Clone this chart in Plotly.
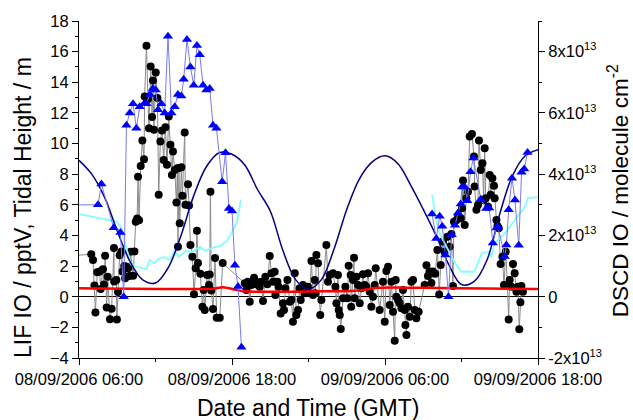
import plotly.graph_objects as go
from datetime import datetime, timedelta

T0 = datetime(2006, 9, 8, 6, 0)

# LIF IO (pptV) - hours since 08/09/2006 06:00
lif_hours = [-0.3, 0.96, 1.10, 1.21, 1.29, 1.43, 1.62, 1.70, 1.88, 1.96, 2.05, 2.17, 2.25, 2.43, 2.56, 2.74, 2.76,
             2.93, 2.97, 3.06, 3.19, 3.33, 3.41, 3.55, 3.62, 3.73, 3.86, 3.95, 4.04, 4.25, 4.35, 4.45, 4.56, 4.63,
             4.71, 4.84, 4.97, 5.10, 5.15, 5.29, 5.41, 5.49, 5.62, 5.73, 5.80, 5.88, 6.02, 6.15, 6.25, 6.38, 6.51,
             6.64, 6.78, 6.90, 7.04, 7.17, 7.29, 7.37, 7.51, 7.64, 7.72, 7.76, 7.84, 7.90, 8.03, 8.11, 8.29, 8.35,
             8.55, 8.63, 8.74, 8.89, 9.02, 9.15, 9.25, 9.33, 9.52, 9.68, 9.78, 9.86, 10.05, 10.20, 10.25, 10.31,
             10.38, 10.51, 10.67, 10.80, 11.04, 11.27,
             13.00, 13.13, 13.25, 13.39, 13.52, 13.73, 13.84, 13.99, 14.17, 14.31, 14.43, 14.62, 14.78, 14.96,
             15.09, 15.22, 15.35, 15.40, 15.56, 15.66, 15.82, 16.00, 16.08, 16.19, 16.35, 16.53, 16.66, 16.78,
             16.92, 17.05, 17.18, 17.31, 17.39, 17.57, 17.70, 17.96, 18.09, 18.23, 18.35, 18.49, 18.54, 18.62,
             18.75, 18.92, 19.01, 19.40, 19.53, 19.66, 19.92, 20.11, 20.19, 20.31, 20.37, 20.45, 20.53, 20.71,
             20.89, 21.05, 21.15, 21.31, 21.35, 21.49, 21.57, 21.62, 21.76, 21.88, 22.02, 22.15, 22.27, 22.40,
             22.54, 22.67, 22.80, 22.93, 23.06, 23.19, 23.27, 23.58, 23.84, 23.98, 24.11, 24.24, 24.37, 24.50,
             24.63, 24.76, 24.84, 24.89, 25.02, 25.15, 25.29, 25.41, 25.55, 25.60, 25.68, 25.80, 25.94, 26.07,
             26.20, 26.33, 26.46, 26.64,
             27.11, 27.25, 27.37, 27.51, 27.64, 27.76, 27.94, 28.11, 28.25, 28.37, 28.55, 28.68, 28.89, 29.07,
             29.21, 29.33, 29.41, 29.60, 29.73, 29.94, 30.04, 30.12, 30.25, 30.38, 30.51, 30.64, 30.82, 30.98,
             31.03, 31.17, 31.29, 31.37, 31.51, 31.64, 31.74, 31.82, 31.90, 32.08, 32.21, 32.29, 32.42, 32.55,
             32.60, 32.74, 32.82, 32.92, 33.07, 33.21, 33.33, 33.47, 33.60, 33.70, 33.78, 33.91, 34.04, 34.17,
             34.31, 34.43, 34.53, 34.62, 34.70, 34.82]
lif_values = [2.7, 2.77, 2.4, 0.73, -1.03, 1.6, 1.65, 0.5, 1.8, 0.8, 2.67, -0.7, 1.3, -1.47, -0.78, 3.18, 1.0,
              1.09, -1.48, 0.31, 2.7, 2.96, 1.65, 2.0, 1.2, 1.96, 1.86, 1.35, 2.94, 1.37, 2.96, 4.9, 5.1, 7.84,
              5.0, 8.54, 10.2, 8.98, 13.07, 16.39, 12.9, 11.0, 15.03, 11.73, 14.12, 10.9, 14.64, 12.97, 6.65, 10.13, 10.85,
              8.93, 11.07, 8.61, 11.76, 9.92, 7.95, 9.48, 8.28, 6.15, 8.39, 3.27, 8.4, 4.8, 8.46, 6.6, 10.72, 6.0,
              7.35, 5.95, 3.38, 2.61, 0.16, 1.86, 4.31, 2.2, 1.5, -0.65, 0.44, -0.87, 1.42, 0.76, 1.45, 6.86,
              0.4, -0.8, 2.53, -1.38, -1.38, 2.2,
              0.88, 0.44, 0.98, -0.33, 0.76, 1.24, 0.81, 0.94, 0.65, 0.98, -0.28, 1.31, 0.81, 2.66,
              1.53, 0.98, 1.63, 0.11, 0.98, 0.65, -1.09, -0.43, -0.87, 0.55, 1.09, -0.33, -0.22, -1.63,
              1.53, -1.2, -0.87, 0.55, -0.22, 0.76, 0.22, 0.65, 0.22, 2.33, 0.11, 1.09, 0.22, 2.72,
              2.18, -1.2, -0.22, 3.38, 0.98, 1.42, 1.53, 0.65, -0.43, 1.42, -0.87, -1.2, -2.11, -0.1,
              0.65, -0.1, 2.03, 1.42, -0.65, 1.09, 2.55, -0.1, 1.31, 0.76, -0.43, 0.55, 1.46, 0.76,
              0.65, 1.53, 0.33, -0.65, 0.0, 0.76, 1.86, -0.87, 0.98, -1.63, 1.68, 1.96, -0.54, 0.98,
              -0.98, -2.88, 1.09, 0.0, -0.22, -0.43, -0.76, 0.44, -0.87, -1.85, -2.5, -0.65, -1.31, 0.98,
              1.09, -0.87, -1.41, -0.98,
              0.76, 2.05, 1.35, 1.65, 0.9, 1.65, 1.5, 3.05, 0.15, 2.07, 3.6, 2.94, 3.92, 3.27,
              4.1, 0.7, 4.9, 5.0, 5.23, 5.12, 5.78, 7.58, 4.69, 6.43, 6.86, 10.46, 10.63, 9.15,
              7.19, 5.67, 5.99, 10.2, 8.28, 8.72, 6.32, 9.7, 6.43, 5.88, 7.95, 6.65, 7.74, 7.24,
              6.43, 5.01, 4.62, 4.47, 2.14, 2.61, 0.76, 2.94, 0.76, -1.48, 1.09, 0.65, 2.14, 1.53,
              0.33, 0.65, -2.13, -0.36, 0.7, 0.33]

# DSCD IO (units of 1e13 molecule cm-2); None separates the two days
dscd_hours = [-0.5, 1.49, 1.76, 2.72, 3.25, 3.51, 3.72, 3.98, 4.24, 4.50, 4.76, 5.10, 5.29, 5.55, 5.80, 6.02,
              6.20, 6.46, 6.72, 6.98, 7.25, 7.51, 7.76, 8.03, 8.21, 8.47, 8.74, 9.00, 9.25, 9.47, 9.73, 9.99,
              10.25, 10.51, 10.78, 11.23, 11.49, 11.76, 12.00, 12.23, 12.47, 12.74,
              None,
              27.69, 28.02, 28.29, 28.49, 28.74, 28.98, 29.23, 29.49, 29.72, 29.94, 30.04, 30.25, 30.45, 30.71,
              30.93, 31.51, 31.94, 32.17, 32.46, 32.74, 32.86, 33.40, 33.52, 33.70, 33.96, 34.19, 34.49, 34.71,
              34.92, 35.18]
dscd_values = [3.0, 3.0, 3.68, 2.25, 2.1, 0.0, 5.6, 6.0, 6.3, 5.5, 6.2, 6.3, 6.3, 6.6, 6.8, 6.75,
               6.1, 6.3, 6.0, 8.5, 6.0, 6.2, 6.6, 6.55, 7.1, 8.4, 7.5, 6.9, 8.2, 7.9, 6.9, 6.75,
               6.8, 5.6, 5.5, 3.75, 4.7, 2.88, 2.8, 1.03, 0.33, -1.65,
               None,
               2.7, 1.9, 2.63, 2.3, 1.36, 0.0, 2.02, 2.33, 2.73, 3.03, 3.58, 3.58, 3.13, 4.08,
               4.53, 3.18, 2.88, 2.9, 1.75, 2.24, 2.27, 1.31, 1.69, 2.84, 3.87, 3.16, 1.68, 4.06,
               4.17, 4.71]

# Cyan trace (left-axis units)
cyan_hours = [0.0, 1.23, 2.4, 2.96, 3.33, 3.6, 4.1, 4.5, 5.3, 5.55, 5.9, 6.3, 6.7, 7.1, 7.5, 7.8, 8.4, 8.8,
              9.5, 9.9, 10.5, 11.0, 11.56, 12.05, 12.4, 12.7,
              None,
              27.7, 28.0, 28.3, 29.1, 29.5, 30.0, 31.0, 31.6, 32.1, 32.35, 32.6, 33.4, 34.2, 35.0, 35.2, 36.0]
cyan_values = [5.4, 5.2, 5.0, 4.9, 4.5, 3.5, 2.1, 1.95, 1.8, 2.4, 2.2, 2.5, 2.6, 2.4, 3.0, 2.6, 3.0, 2.9,
               3.25, 3.0, 3.2, 3.3, 3.6, 4.3, 4.9, 6.3,
               None,
               6.65, 5.0, 4.1, 2.84, 2.18, 1.63, 1.63, 2.84, 2.94, 2.6, 3.5, 4.14, 5.0, 5.9, 6.43, 6.5]

# Tidal height (m), hourly
tide_hours = list(range(0, 37))
tide_values = [8.9, 8.0, 6.5, 4.3, 2.3, 1.1, 0.9, 1.9, 4.0, 6.6, 8.5, 9.4, 9.3, 8.6, 7.0, 5.6, 3.0, 1.1,
               0.5, 1.1, 3.1, 5.7, 7.7, 8.8, 9.2, 8.7, 7.3, 5.7, 4.0, 2.1, 0.8, 1.0, 2.4, 5.4, 7.9, 9.2, 9.6]

# Red trace (pptV)
red_hours = [0, 9, 10.5, 11.3, 12.3, 13, 19, 22, 23.4, 27, 30, 36]
red_values = [0.55, 0.5, 0.52, 0.62, 0.45, 0.35, 0.35, 0.4, 0.58, 0.58, 0.55, 0.5]

SUP = "<sup><span style='font-size:11px'>13</span></sup>"
y2_tickvals = [-2e13, 0, 2e13, 4e13, 6e13, 8e13]
y2_ticktext = ["-2x10" + SUP, "0", "2x10" + SUP, "4x10" + SUP, "6x10" + SUP, "8x10" + SUP]


def to_dt(hours):
    return [None if h is None else (T0 + timedelta(hours=h)).strftime("%Y-%m-%d %H:%M:%S") for h in hours]


FONT = "Liberation Sans, Arial, sans-serif"

fig = go.Figure()
fig.add_trace(go.Scatter(x=to_dt(lif_hours), y=lif_values, mode="lines+markers",
                         line=dict(color="#8a8a8a", width=1),
                         marker=dict(color="black", size=8, symbol="circle"), name="LIF IO"))
fig.add_trace(go.Scatter(x=to_dt(dscd_hours), y=[None if v is None else v * 1e13 for v in dscd_values],
                         mode="lines+markers", yaxis="y2", connectgaps=False,
                         line=dict(color="#7a7af0", width=1),
                         marker=dict(color="#0000ff", size=9, symbol="triangle-up"), name="DSCD IO"))
fig.add_trace(go.Scatter(x=to_dt(cyan_hours), y=cyan_values, mode="lines", connectgaps=False,
                         line=dict(color="#7fffff", width=1.8), name="cyan"))
fig.add_trace(go.Scatter(x=to_dt(tide_hours), y=tide_values, mode="lines",
                         line=dict(color="#000080", width=1.5, shape="spline", smoothing=1.0), name="Tide"))
fig.add_trace(go.Scatter(x=to_dt(red_hours), y=red_values, mode="lines",
                         line=dict(color="#ff0000", width=2.5, shape="spline"), name="red"))

axis_common = dict(showgrid=False, showline=True, linecolor="black", linewidth=1,
                   ticks="outside", ticklen=6, tickcolor="black",
                   tickfont=dict(family=FONT, size=16.5, color="black"))

fig.update_layout(
    width=633, height=420,
    margin=dict(l=79, r=95, t=21, b=62),
    paper_bgcolor="white", plot_bgcolor="white",
    showlegend=False,
    font=dict(family=FONT, color="black"),
    xaxis=dict(type="date", range=["2006-09-08 06:00", "2006-09-09 18:00"],
               tickmode="linear", tick0="2006-09-08 06:00", dtick=12 * 3600 * 1000,
               tickformat="%d/%m/%Y %H:%M", zeroline=False,
               minor=dict(ticks="outside", ticklen=3, tickcolor="black",
                          tick0="2006-09-08 06:00", dtick=6 * 3600 * 1000),
               **axis_common),
    yaxis=dict(range=[-4, 18], dtick=2, tick0=0, zeroline=True, zerolinecolor="black",
               zerolinewidth=1,
               minor=dict(ticks="outside", ticklen=3, tickcolor="black", dtick=1),
               **axis_common),
    yaxis2=dict(range=[-2e13, 9e13], overlaying="y", side="right", anchor="x",
                tickmode="array", tickvals=y2_tickvals, ticktext=y2_ticktext, zeroline=False,
                minor=dict(ticks="outside", ticklen=3, tickcolor="black",
                           tickmode="array", tickvals=[-1e13, 1e13, 3e13, 5e13, 7e13, 9e13]),
                **axis_common),
)

fig.add_annotation(text="Date and Time (GMT)", xref="paper", yref="paper", x=0.498, y=-0.148,
                   showarrow=False, font=dict(family=FONT, size=23, color="black"),
                   xanchor="center", yanchor="middle")
fig.add_annotation(text="LIF IO / pptV, Tidal Height / m", xref="paper", yref="paper", x=-0.1205, y=0.447,
                   showarrow=False, textangle=-90, font=dict(family=FONT, size=23, color="black"),
                   xanchor="center", yanchor="middle")
fig.add_annotation(text="DSCD IO / molecule cm<sup>-2</sup>", xref="paper", yref="paper", x=1.175, y=0.496,
                   showarrow=False, textangle=-90, font=dict(family=FONT, size=22.5, color="black"),
                   xanchor="center", yanchor="middle")

fig.write_html("out.html", config={"displayModeBar": False},
               post_script="document.body.style.margin='0px';")
